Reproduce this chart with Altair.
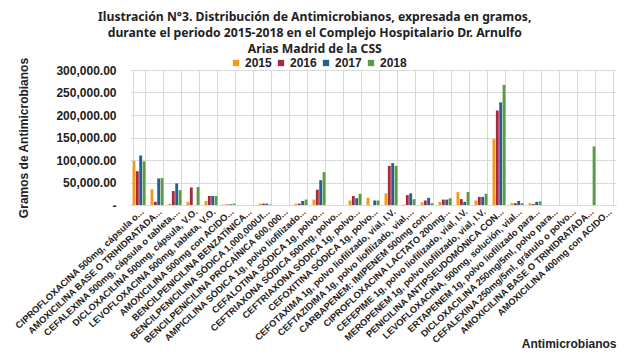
import json
import altair as alt
import pandas as pd

categories = [
    "CIPROFLOXACINA 500mg, cápsula o...",
    "AMOXICILINA BASE O TRIHIDRATADA...",
    "CEFALEXINA 500mg, cápsula o tableta,...",
    "DICLOXACILINA 500mg, cápsula, V.O.",
    "LEVOFLOXACINA 500mg, tableta, V.O.",
    "AMOXICILINA 500mg con ACIDO...",
    "BENCILPENICILINA BENZATÍNICA...",
    "BENCILPENICILINA SÓDICA 1,000,000UI...",
    "BENCILPENICILINA PROCAÍNICA 600,000...",
    "AMPICILINA SÓDICA 1g, polvo liofilizado...",
    "CEFALOTINA SÓDICA 1g, polvo...",
    "CEFTRIAXONA SÓDICA 500mg, polvo...",
    "CEFTRIAXONA SÓDICA 1g, polvo...",
    "CEFOXITINA SÓDICA 1g, polvo...",
    "CEFOTAXIMA 1g, polvo liofilizado, vial, I.V.",
    "CEFTAZIDIMA 1g, polvo liofilizado, vial,...",
    "CARBAPENEM: IMIPENEM 500mg con...",
    "CIPROFLOXACINA LACTATO 200mg...",
    "CEFEPIME 1g, polvo liofilizado, vial, I.V.",
    "MEROPENEM 1g, polvo liofilizado, vial, I.V.",
    "PENICILINA ANTIPSEUDOMÓNICA CON...",
    "LEVOFLOXACINA, 500mg, solución, vial...",
    "ERTAPENEM 1g, polvo liofilizado para...",
    "DICLOXACILINA 250mg/5ml, polvo para...",
    "CEFALEXINA 250mg/5ml, gránulo o polvo...",
    "AMOXICILINA BASE O TRIHIDRATADA...",
    "AMOXICILINA 400mg con ACIDO...",
]

years = ["2015", "2016", "2017", "2018"]

v2015 = [98000, 35000, 3000, 7000, 9000, 1000, 0, 3000, 0, 3000, 12000, 0, 10000,
         16000, 26000, 1000, 6000, 7000, 29000, 10000, 147000, 4000, 4000, 0, 0, 0, 0]
v2016 = [75000, 7000, 31000, 39000, 20000, 1000, 0, 3000, 0, 3000, 34000, 0, 20000,
         0, 87000, 22000, 10000, 12000, 13000, 18000, 210000, 4000, 2000, 0, 0, 0, 0]
v2017 = [110000, 59000, 48000, 0, 20000, 1500, 0, 3000, 0, 9000, 55000, 0, 15000,
         10000, 93000, 26000, 16000, 12000, 7000, 18000, 228000, 9000, 7000, 0, 0, 0, 0]
v2018 = [97000, 60000, 33000, 40000, 20000, 3000, 0, 1000, 0, 12000, 73000, 0, 25000,
         10000, 87000, 13000, 4000, 15000, 29000, 25000, 267000, 4000, 8000, 0, 0, 130000, 0]

colors = ["#F39A1E", "#A52A3F", "#255E91", "#5A9B48"]

series = {"2015": v2015, "2016": v2016, "2017": v2017, "2018": v2018}
rows = []
for y in years:
    for i, v in enumerate(series[y]):
        rows.append({"idx": i, "year": y, "value": v})
df = pd.DataFrame(rows)

label_expr = json.dumps(categories, ensure_ascii=False) + "[datum.value]"

FONT = "Liberation Sans"

chart = alt.Chart(df).mark_bar().encode(
    x=alt.X(
        "idx:O",
        scale=alt.Scale(paddingInner=0.28, paddingOuter=0.14),
        axis=alt.Axis(
            title="Antimicrobianos",
            labelExpr=label_expr,
            labelAngle=-43,
            labelFont=FONT,
            labelFontSize=9.3,
            labelFontWeight="bold",
            labelColor="#222222",
            labelLimit=400,
            labelPadding=2,
            ticks=False,
            grid=True,
            tickBand="extent",
            gridColor="#D9D9D9",
            domainColor="#D9D9D9",
            titleFont=FONT,
            titleFontSize=12,
            titleFontWeight="bold",
            titleColor="#222222",
            titleAnchor="end",
            titleAlign="right",
            titleY=133,
        ),
    ),
    xOffset=alt.XOffset("year:N", scale=alt.Scale(paddingInner=0.15)),
    y=alt.Y(
        "value:Q",
        scale=alt.Scale(domain=[0, 300000]),
        axis=alt.Axis(
            title="Gramos de Antimicrobianos",
            values=[0, 50000, 100000, 150000, 200000, 250000, 300000],
            labelExpr="datum.value == 0 ? '-\u00a0\u00a0\u00a0' : format(datum.value, ',.2f')",
            labelFont=FONT,
            labelFontSize=12,
            labelFontWeight="bold",
            labelColor="#222222",
            labelPadding=14,
            ticks=False,
            domain=False,
            gridColor="#D9D9D9",
            titleFont=FONT,
            titleFontSize=12,
            titleFontWeight="bold",
            titleColor="#222222",
            titlePadding=25,
        ),
    ),
    color=alt.Color(
        "year:N",
        scale=alt.Scale(domain=years, range=colors),
        legend=alt.Legend(
            title=None,
            orient="none",
            direction="horizontal",
            legendX=100,
            legendY=-13,
            symbolType="square",
            symbolSize=40,
            symbolStrokeWidth=0,
            labelFont=FONT,
            labelFontSize=12,
            labelFontWeight="bold",
            labelColor="#222222",
            labelOffset=3,
            columnPadding=3,
        ),
    ),
).properties(
    width=486,
    height=135,
    padding={"left": 5, "top": 2, "right": 5, "bottom": 0},
    title=alt.TitleParams(
        text=[
            "Ilustración N°3. Distribución de Antimicrobianos, expresada en gramos,",
            "durante el periodo 2015-2018 en el Complejo Hospitalario Dr. Arnulfo",
            "Arias Madrid de la CSS",
        ],
        font="Noto Sans",
        fontSize=12.2,
        fontWeight="bold",
        lineHeight=16,
        anchor="middle",
        frame="bounds",
        color="#222222",
        offset=2,
    ),
).configure_view(stroke=None)

chart.save("out.html", embed_options={"renderer": "svg", "actions": False})
